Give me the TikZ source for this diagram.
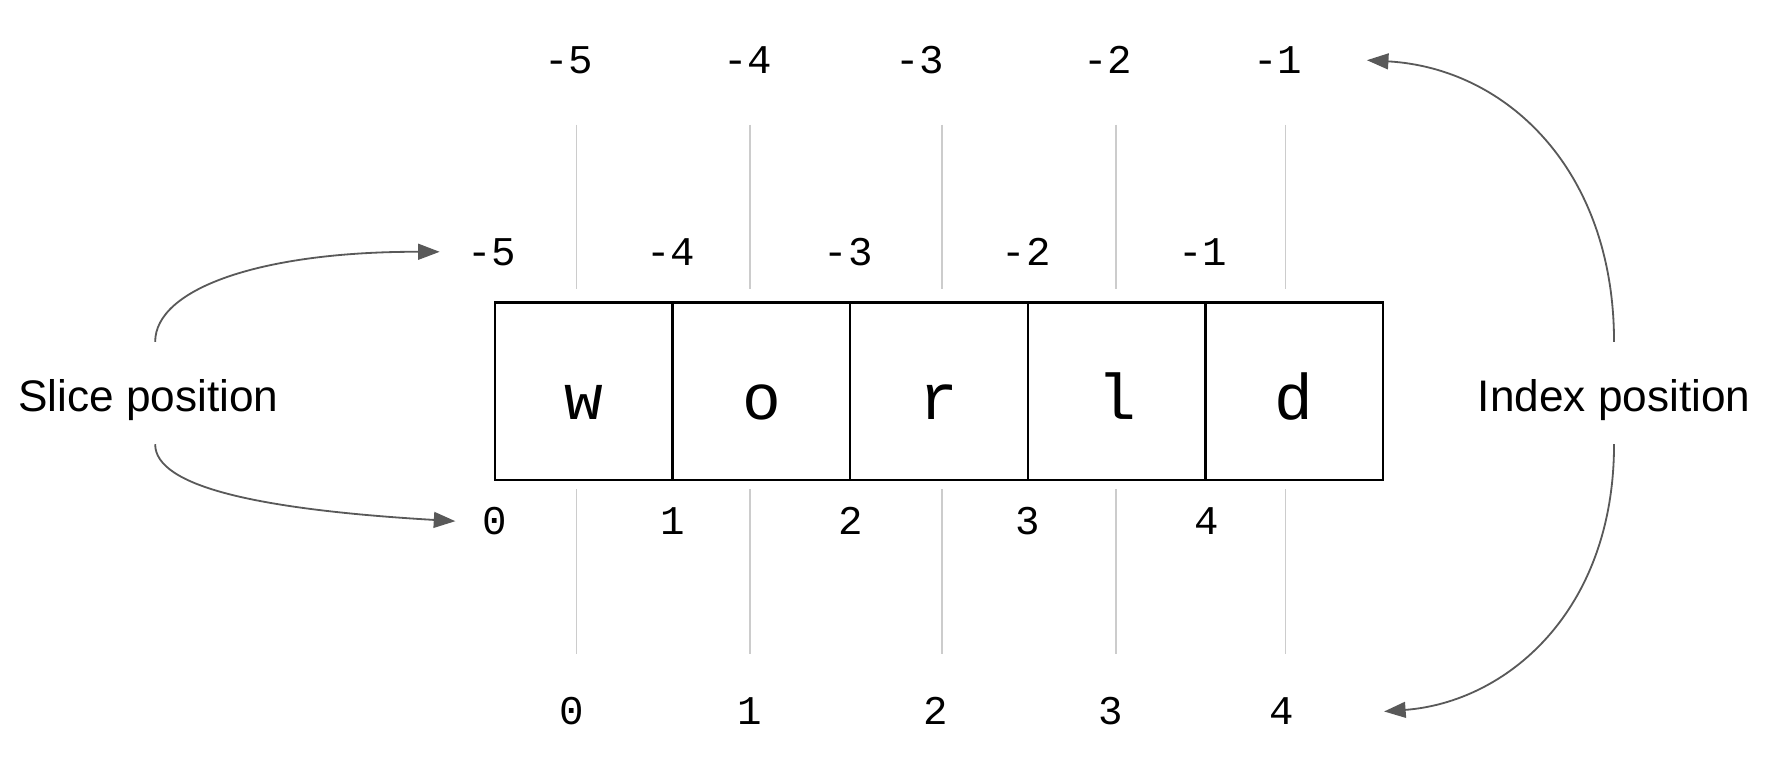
\documentclass[tikz,border=0pt]{standalone}
\usepackage{fontspec}
\setmainfont{Liberation Sans}
\setmonofont{Liberation Mono}
\usetikzlibrary{arrows.meta}
\begin{document}
\begin{tikzpicture}[x=1pt,y=-1pt,
  num/.style={font=\fontsize{36}{40}\selectfont\ttfamily, inner sep=0pt, anchor=base},
  letter/.style={draw=black, line width=2pt, minimum width=156.8pt, minimum height=157pt,
    inner sep=0pt, text height=49pt, text depth=0pt, font=\fontsize{57}{60}\selectfont\ttfamily},
  side/.style={font=\fontsize{39}{44}\selectfont, inner xsep=0pt, inner ysep=25pt,
    text height=36pt, text depth=4pt},
  guide/.style={draw=black!20, line width=1.6pt},
  arr/.style={draw=black!65, line width=1.6pt, -{Triangle[length=19pt,width=14pt]}}]
\useasboundingbox (0,0) rectangle (1568,690);

% cells
\node[letter] (c1) at (515.4,345.5) {w};
\node[letter] (c2) at (672.2,345.5) {o};
\node[letter] (c3) at (829.0,345.5) {r};
\node[letter] (c4) at (985.8,345.5) {l};
\node[letter] (c5) at (1142.6,345.5) {d};

% top index labels
\node[num] (t1) at (502,65) {-5};
\node[num] (t2) at (660,65) {-4};
\node[num] (t3) at (812,65) {-3};
\node[num] (t4) at (978,65) {-2};
\node[num] (t5) at (1128,65) {-1};

% slice negative labels
\node[num] (s1) at (434,234) {-5};
\node[num] (s2) at (592,234) {-4};
\node[num] (s3) at (749,234) {-3};
\node[num] (s4) at (906,234) {-2};
\node[num] (s5) at (1062,234) {-1};

% slice positive labels
\node[num] (p0) at (437,472) {0};
\node[num] (p1) at (594,472) {1};
\node[num] (p2) at (751,472) {2};
\node[num] (p3) at (907,472) {3};
\node[num] (p4) at (1065,472) {4};

% bottom index labels
\node[num] (b0) at (505,640) {0};
\node[num] (b1) at (662,640) {1};
\node[num] (b2) at (826,640) {2};
\node[num] (b3) at (981,640) {3};
\node[num] (b4) at (1132,640) {4};

% guide lines
\foreach \x in {509,662,832,985,1135}{
  \draw[guide] (\x,110) -- (\x,255);
  \draw[guide] (\x,432) -- (\x,577);
}

% side labels
\node[side] (slice) at (131,347) {Slice position};
\node[side] (index) at (1425,347) {Index position};

% arrows
\draw[arr] ([xshift=6pt]slice.north) .. controls (137,255) and (230,222) .. ([xshift=-24pt]s1.west);
\draw[arr] ([xshift=6pt]slice.south) .. controls (137,430) and (230,450) .. ([xshift=-24pt]p0.west);
\draw[arr] (index.north) .. controls (1425,150) and (1330,60) .. ([xshift=57pt]t5.east);
\draw[arr] (index.south) .. controls (1425,540) and (1330,620) .. ([xshift=79pt]b4.east);
\end{tikzpicture}
\end{document}
